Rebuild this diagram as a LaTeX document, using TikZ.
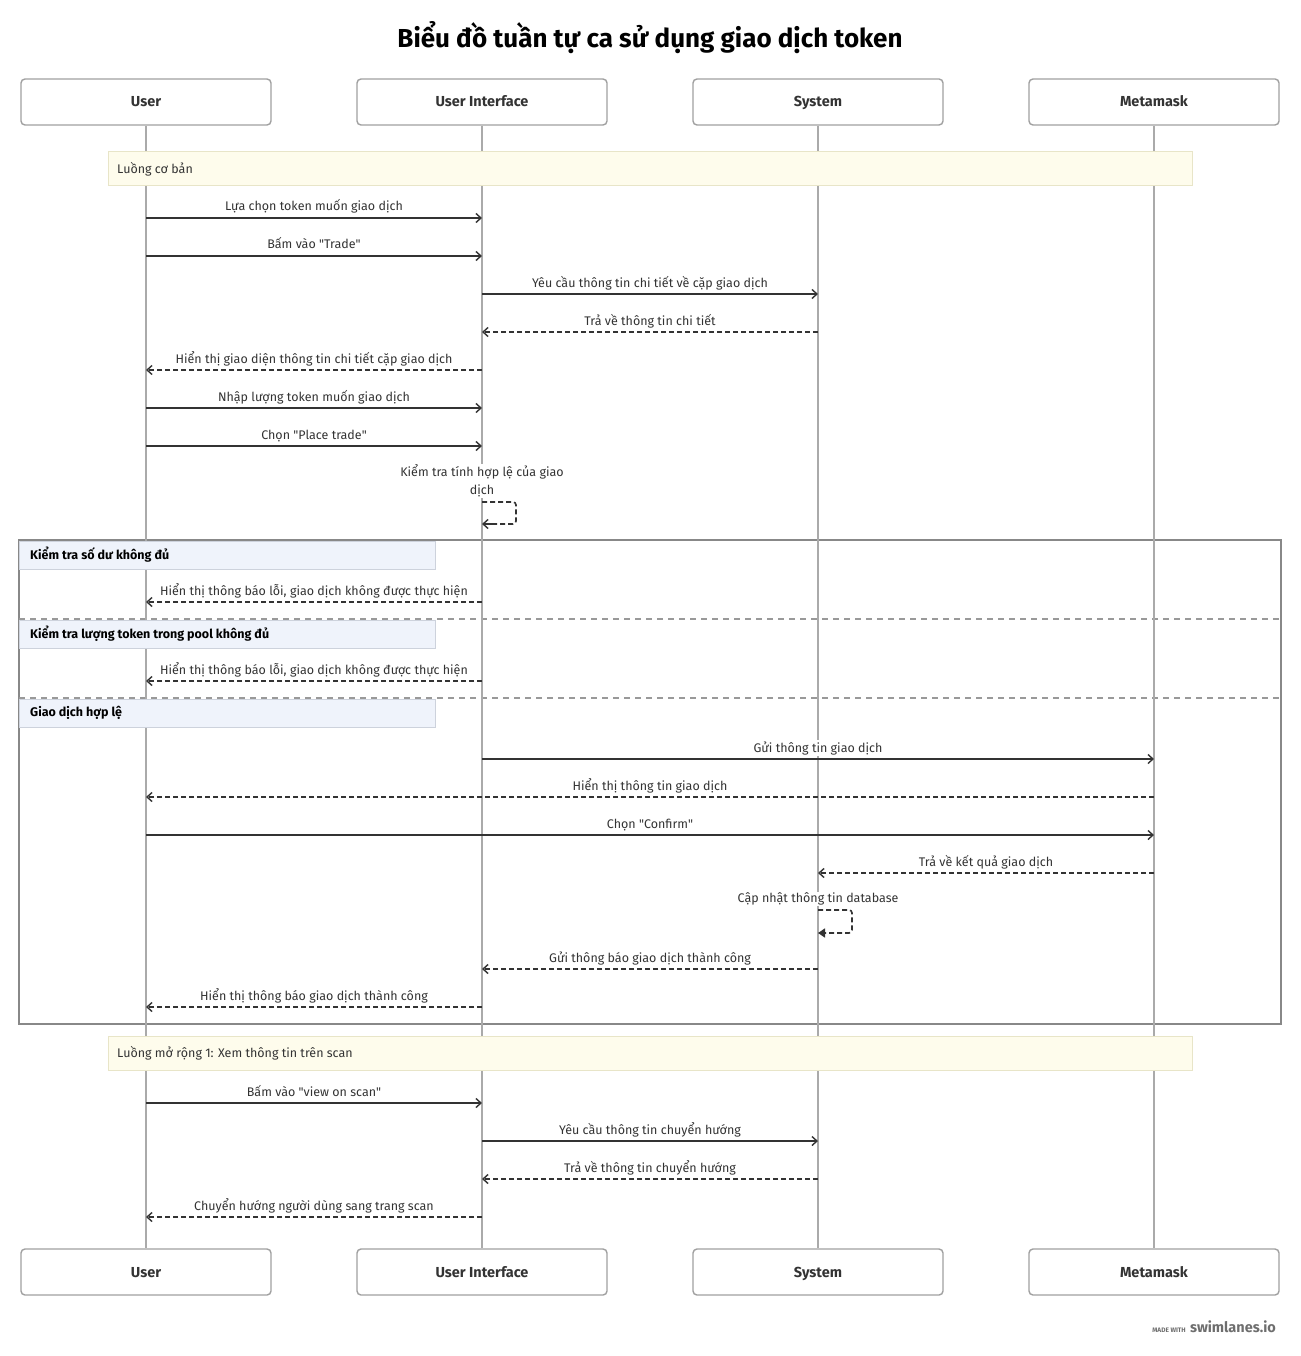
\documentclass[tikz,border=0pt]{standalone}
\usepackage{fontspec}
\setmainfont{Fira Sans}
\usetikzlibrary{arrows.meta}
\definecolor{ink}{RGB}{51,51,51}
\definecolor{boxline}{RGB}{160,160,160}
\definecolor{lifeline}{RGB}{170,170,170}
\definecolor{notefill}{RGB}{254,252,236}
\definecolor{noteline}{RGB}{232,229,200}
\definecolor{fragline}{RGB}{136,136,136}
\definecolor{fraglblfill}{RGB}{239,243,251}
\definecolor{fraglblline}{RGB}{205,210,220}
\definecolor{footgray}{RGB}{110,110,110}
\tikzset{
  actor/.style={draw=boxline, line width=1.4pt, rounded corners=4pt, fill=white,
    minimum width=250pt, minimum height=46pt, inner sep=0pt, text height=10pt, text depth=0pt,
    font=\fontsize{14.5}{17}\selectfont\bfseries, text=ink},
  life/.style={draw=lifeline, line width=1.8pt},
  solidmsg/.style={draw=ink, line width=1.6pt, -{Straight Barb[length=5pt,width=9pt,line width=1.4pt]}},
  dashmsg/.style={solidmsg, dash pattern=on 5pt off 3pt},
  lbl/.style={anchor=base, yshift=7pt, fill=white, inner sep=1pt, text=ink,
    font=\fontsize{12.5}{15}\selectfont},
  looplbl/.style={anchor=center, fill=white, inner sep=1pt, text=ink, align=center,
    font=\fontsize{12.5}{18}\selectfont},
  note/.style={draw=noteline, line width=1pt, fill=notefill},
  notetext/.style={anchor=west, inner sep=0pt, text=ink, font=\fontsize{12.5}{15}\selectfont},
  fraglbl/.style={draw=fraglblline, line width=1pt, fill=fraglblfill},
  fraglbltext/.style={anchor=west, inner sep=0pt, text=black, font=\fontsize{12.5}{15}\selectfont\bfseries},
  loopdash/.style={draw=ink, line width=1.6pt, dash pattern=on 5pt off 3pt, rounded corners=3pt}
}
\newcommand\seqmsg[5]{\draw[#5] (#1 |- 0,#3) -- node[lbl]{#4} (#2 |- 0,#3);}
\begin{document}
\begin{tikzpicture}[x=1pt,y=-1pt]
\useasboundingbox (0,0) rectangle (1300,1356);
\fill[white] (0,0) rectangle (1300,1356);

\node[font=\fontsize{26}{31}\selectfont\bfseries, text=black] (title) at (650,38) {Biểu đồ tuần tự ca sử dụng giao dịch token};

% fragment frame
\draw[draw=fragline, line width=2pt] (19,540) rectangle (1281,1024);
\draw[draw=lifeline!90!black, line width=1.5pt, dash pattern=on 6pt off 5pt] (19,619) -- (1281,619);
\draw[draw=lifeline!90!black, line width=1.5pt, dash pattern=on 6pt off 5pt] (19,698) -- (1281,698);

% actors
\node[actor] (U) at (146,102) {User};
\node[actor] (I) at (482,102) {User Interface};
\node[actor] (S) at (818,102) {System};
\node[actor] (M) at (1154,102) {Metamask};
\node[actor] (Ub) at (146,1272) {User};
\node[actor] (Ib) at (482,1272) {User Interface};
\node[actor] (Sb) at (818,1272) {System};
\node[actor] (Mb) at (1154,1272) {Metamask};

% lifelines
\draw[life] (U.south) -- (Ub.north);
\draw[life] (I.south) -- (Ib.north);
\draw[life] (S.south) -- (Sb.north);
\draw[life] (M.south) -- (Mb.north);

% note 1
\draw[note] (108,152) rectangle (1192,186);
\node[notetext] (n1) at (117,169) {Luồng cơ bản};

\seqmsg{U}{I}{218}{Lựa chọn token muốn giao dịch}{solidmsg}
\seqmsg{U}{I}{256}{Bấm vào \textquotedbl Trade\textquotedbl}{solidmsg}
\seqmsg{I}{S}{294}{Yêu cầu thông tin chi tiết về cặp giao dịch}{solidmsg}
\seqmsg{S}{I}{332}{Trả về thông tin chi tiết}{dashmsg}
\seqmsg{I}{U}{370}{Hiển thị giao diện thông tin chi tiết cặp giao dịch}{dashmsg}
\seqmsg{U}{I}{408}{Nhập lượng token muốn giao dịch}{solidmsg}
\seqmsg{U}{I}{446}{Chọn \textquotedbl Place trade\textquotedbl}{solidmsg}

% self loop UI
\node[looplbl] (selfI) at (482,481) {Kiểm tra tính hợp lệ của giao\\dịch};
\coordinate (li1) at (I |- 0,502);
\coordinate (li2) at (I |- 0,524);
\draw[loopdash] (li1) -- ++(34,0) -- ++(0,22) -- (li2);
\draw[solidmsg, dash pattern=on 5pt off 3pt] ([xshift=12pt]li2) -- (li2);

% fragment labels
\draw[fraglbl] (19,541) rectangle (435,569);
\node[fraglbltext] (f1) at (30,555) {Kiểm tra số dư không đủ};
\draw[fraglbl] (19,620) rectangle (435,648);
\node[fraglbltext] (f2) at (30,634) {Kiểm tra lượng token trong pool không đủ};
\draw[fraglbl] (19,699) rectangle (435,727);
\node[fraglbltext] (f3) at (30,713) {Giao dịch hợp lệ};

\seqmsg{I}{U}{602}{Hiển thị thông báo lỗi, giao dịch không được thực hiện}{dashmsg}
\seqmsg{I}{U}{681}{Hiển thị thông báo lỗi, giao dịch không được thực hiện}{dashmsg}
\seqmsg{I}{M}{759}{Gửi thông tin giao dịch}{solidmsg}
\seqmsg{M}{U}{797}{Hiển thị thông tin giao dịch}{dashmsg}
\seqmsg{U}{M}{835}{Chọn \textquotedbl Confirm\textquotedbl}{solidmsg}
\seqmsg{M}{S}{873}{Trả về kết quả giao dịch}{dashmsg}

% self loop System
\node[looplbl] (selfS) at (818,899) {Cập nhật thông tin database};
\coordinate (ls1) at (S |- 0,910);
\coordinate (ls2) at (S |- 0,933);
\draw[loopdash] (ls1) -- ++(34,0) -- ++(0,23) -- (ls2);
\draw[draw=ink, line width=1.6pt, -{Triangle[length=7pt,width=9pt]}] ([xshift=8pt]ls2) -- (ls2);

\seqmsg{S}{I}{969}{Gửi thông báo giao dịch thành công}{dashmsg}
\seqmsg{I}{U}{1007}{Hiển thị thông báo giao dịch thành công}{dashmsg}

% note 2
\draw[note] (108,1036) rectangle (1192,1070);
\node[notetext] (n2) at (117,1053) {Luồng mở rộng 1: Xem thông tin trên scan};

\seqmsg{U}{I}{1103}{Bấm vào \textquotedbl view on scan\textquotedbl}{solidmsg}
\seqmsg{I}{S}{1141}{Yêu cầu thông tin chuyển hướng}{solidmsg}
\seqmsg{S}{I}{1179}{Trả về thông tin chuyển hướng}{dashmsg}
\seqmsg{I}{U}{1217}{Chuyển hướng người dùng sang trang scan}{dashmsg}

% footer
\node[anchor=base east, inner sep=0pt, text=footgray, font=\fontsize{14.5}{17}\selectfont\bfseries] (logo) at (1276,1332) {swimlanes.io};
\node[anchor=base east, inner sep=0pt, text=footgray, font=\fontsize{6.5}{8}\selectfont\bfseries] (made) at ([xshift=-4pt]logo.base west) {MADE WITH};
\end{tikzpicture}
\end{document}
